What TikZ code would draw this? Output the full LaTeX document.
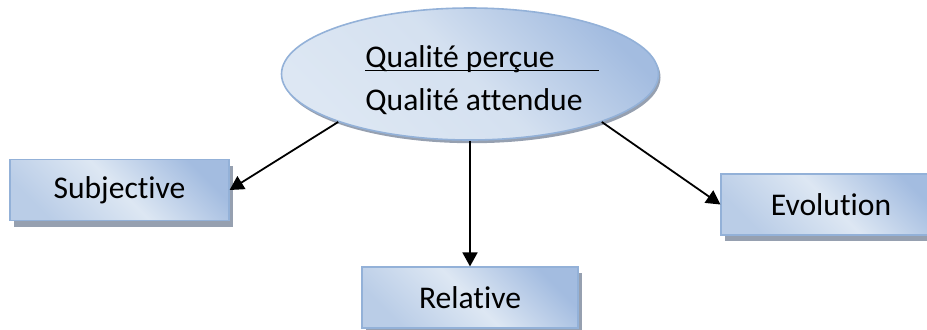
\documentclass[tikz,border=0pt]{standalone}
\usepackage{fontspec}
\setmainfont[Ligatures=NoCommon]{Carlito}
\usetikzlibrary{shapes.geometric,shadows,arrows.meta}
\definecolor{qlight}{HTML}{DDE7F3}
\definecolor{qmid}{HTML}{BACDE7}
\definecolor{qdark}{HTML}{A3BCE0}
\definecolor{qedge}{HTML}{93B1D8}
\definecolor{qshadow}{HTML}{96A0B0}
\pgfdeclarehorizontalshading{boxshade}{100bp}{color(0bp)=(qmid); color(25bp)=(qmid);
  color(50bp)=(qlight); color(75bp)=(qdark); color(100bp)=(qdark)}
\pgfdeclarehorizontalshading{ovalshade}{100bp}{color(0bp)=(qlight); color(25bp)=(qlight);
  color(50bp)=(qlight!85!qdark); color(75bp)=(qdark); color(100bp)=(qdark)}
\tikzset{
  qtext/.style={font=\fontsize{15.8}{21.5}\selectfont},
  qbox/.style={qtext, draw=qedge, line width=0.6pt, shading=boxshade, shading angle=45,
    inner sep=0pt, minimum height=30.5pt,
    drop shadow={shadow xshift=2pt, shadow yshift=-3pt, fill=qshadow, opacity=1}},
  conn/.style={line width=0.9pt, -{Triangle[length=7pt,width=7.5pt]}},
}
\begin{document}
\begin{tikzpicture}[x=0.5pt,y=-0.5pt]
  \path[use as bounding box, clip] (0,0) rectangle (927,329);
  \node[ellipse, draw=qedge, line width=0.8pt, shading=ovalshade, shading angle=45,
    minimum width=188.5pt, minimum height=66pt, inner sep=0pt,
    drop shadow={shadow xshift=1pt, shadow yshift=-1.6pt, fill=qshadow, opacity=1}]
    (qual) at (470,74) {};
  \node[qtext, align=left, anchor=base west, inner sep=0pt] (qualtxt) at (365,110)
    {\rlap{\rule[-2.2pt]{117pt}{0.6pt}}Qualité perçue\\Qualité attendue};
  \node[qbox, minimum width=109.5pt] (subj) at (119.5,190) {Subjective};
  \node[qbox, minimum width=110pt] (evo) at (831,204.5) {Evolution};
  \node[qbox, minimum width=108pt] (rel) at (470,297.5) {Relative};
  \draw[conn] (qual.200) -- (subj.east);
  \draw[conn] (qual.south) -- (rel.north);
  \draw[conn] (qual.340) -- (evo.west);
\end{tikzpicture}
\end{document}
